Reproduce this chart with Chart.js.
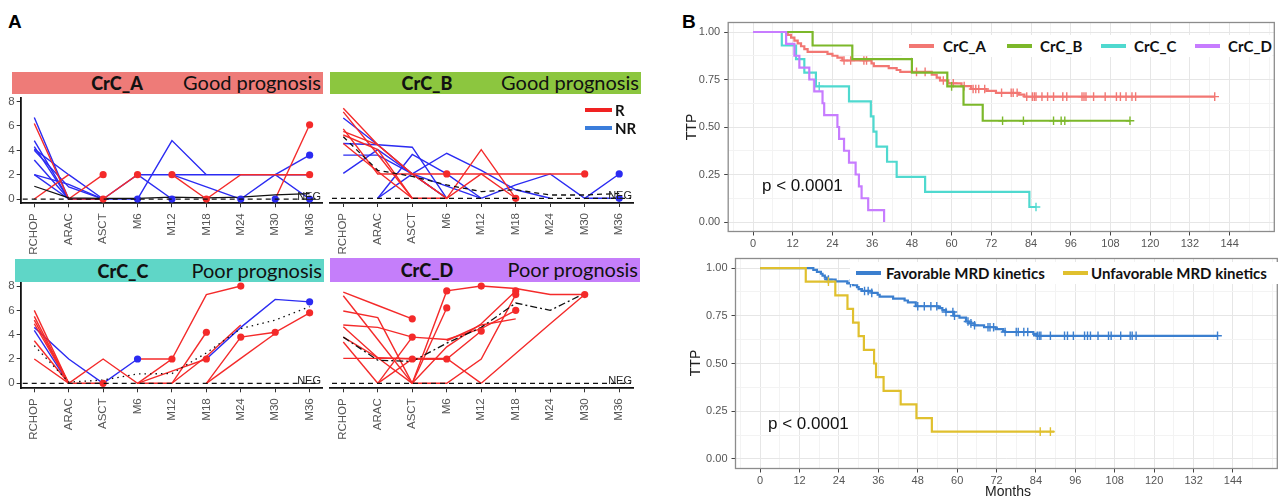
<!DOCTYPE html>
<html><head><meta charset="utf-8">
<title>MRD kinetics and TTP</title>
<script src="https://cdn.jsdelivr.net/npm/chart.js@4.4.1/dist/chart.umd.min.js"></script>
<style>
html,body{margin:0;padding:0;background:#fff;}
body{position:relative;width:1283px;height:498px;overflow:hidden;font-family:'Liberation Sans',Arial,sans-serif;}
canvas{position:absolute;}
.t{position:absolute;white-space:nowrap;line-height:1;}
.panel{font-weight:bold;font-size:19px;color:#000;}
.banner{position:absolute;}
.bid{position:absolute;top:50%;transform:translate(-50%,-50%);font-family:Lato,'Open Sans',sans-serif;font-weight:900;font-size:18px;color:#111;white-space:nowrap;}
.bprog{position:absolute;right:2px;top:50%;transform:translateY(-55%);font-family:Lato,'Open Sans',sans-serif;font-size:20px;color:#111;white-space:nowrap;}
.lkey{position:absolute;height:4px;}
.ltxt{position:absolute;font-family:Lato,'Open Sans',sans-serif;font-weight:bold;font-size:15px;color:#111;white-space:nowrap;line-height:1;transform:translateY(-50%);}
.lbg{position:absolute;background:#fff;}
.pval{position:absolute;font-size:17px;color:#111;white-space:nowrap;line-height:1;}
.atitle{position:absolute;font-size:14px;color:#222;white-space:nowrap;line-height:1;}
</style></head><body>

<div class="t panel" style="left:8px;top:12px;">A</div>
<div class="t panel" style="left:682px;top:12px;">B</div>

<div class="banner" style="left:12px;top:72px;width:311px;height:22px;background:#ee7b78"><span class="bid" style="left:105px">CrC_A</span><span class="bprog">Good prognosis</span></div>
<div class="banner" style="left:330px;top:72px;width:311px;height:22px;background:#8cc63f"><span class="bid" style="left:97px">CrC_B</span><span class="bprog">Good prognosis</span></div>
<div class="banner" style="left:15px;top:259px;width:309px;height:23px;background:#5fd6c7"><span class="bid" style="left:108px">CrC_C</span><span class="bprog">Poor prognosis</span></div>
<div class="banner" style="left:330px;top:258px;width:310px;height:24px;background:#c57efa"><span class="bid" style="left:97px">CrC_D</span><span class="bprog">Poor prognosis</span></div>

<canvas id="cA" width="330" height="176" style="left:0px;top:84px;width:330px;height:176px"></canvas>
<canvas id="cB" width="320" height="176" style="left:322px;top:84px;width:320px;height:176px"></canvas>
<canvas id="cC" width="330" height="176" style="left:0px;top:270px;width:330px;height:176px"></canvas>
<canvas id="cD" width="320" height="176" style="left:322px;top:270px;width:320px;height:176px"></canvas>

<!-- R / NR legend -->
<div class="lkey" style="left:585px;top:108px;width:27px;background:#f02222"></div>
<div class="ltxt" style="left:615px;top:110px;">R</div>
<div class="lkey" style="left:585px;top:126px;width:27px;background:#3a7ddb"></div>
<div class="ltxt" style="left:615px;top:128px;">NR</div>

<canvas id="kmTop" width="603" height="252" style="left:680px;top:0px;width:603px;height:252px"></canvas>
<canvas id="kmBot" width="603" height="258" style="left:680px;top:240px;width:603px;height:258px"></canvas>

<div class="atitle" style="left:691px;top:127px;transform:translate(-50%,-50%) rotate(-90deg);">TTP</div>
<div class="atitle" style="left:695px;top:363px;transform:translate(-50%,-50%) rotate(-90deg);">TTP</div>
<div class="atitle" style="left:1008px;top:491px;transform:translate(-50%,-50%);">Months</div>

<div class="pval" style="left:762px;top:177px;">p &lt; 0.0001</div>
<div class="pval" style="left:768px;top:415px;">p &lt; 0.0001</div>

<div class="lbg" style="left:902px;top:35px;width:370px;height:22px;"></div>
<div class="lbg" style="left:850px;top:262px;width:428px;height:22px;"></div>
<div id="legTop"></div>
<div id="legBot"></div>

<script>
// ---------------- Panel A data ----------------
const categories = ['RCHOP','ARAC','ASCT','M6','M12','M18','M24','M30','M36'];
const yTicksA = [0, 2, 4, 6, 8];
const NEG_LEVEL = 0;

const crcA_red = [
  [6.2, 0, 0, null, null, null, null, null, null],
  [0, 2.0, null, null, null, null, null, null, null],
  [null, 0, 2.0, null, null, null, null, null, null],
  [null, null, 0, 2.0, null, null, null, null, null],
  [null, null, null, null, 2.0, 0, null, null, null],
  [null, null, null, null, null, 0, 2.0, 2.0, 2.0],
  [null, null, null, null, null, null, null, 0, 6.1]
];
const crcA_blue = [
  [6.7, 0, 0, 0, null, null, null, null, null],
  [4.8, 0, null, null, null, null, null, null, null],
  [4.3, 0, null, null, null, null, null, null, null],
  [4.1, 2.0, 0, null, null, null, null, null, null],
  [4.0, 1.0, 0, null, null, null, null, null, null],
  [3.2, 0, null, null, null, null, null, null, null],
  [2.0, 1.2, 0, null, null, null, null, null, null],
  [2.0, 0, null, null, null, null, null, null, null],
  [null, null, 0, 2.0, 2.0, 2.0, 2.0, 2.0, 2.0],
  [null, null, null, 0, 4.8, 2.0, null, null, null],
  [null, null, null, 2.0, 0, null, null, null, null],
  [null, null, null, null, 2.0, 1.0, 0, null, null],
  [null, null, null, null, null, null, 0, 2.0, 0],
  [null, null, null, null, null, null, null, 2.0, 3.6]
];
const crcA_mean = [1.05, 0.1, 0.05, 0.05, 0.15, 0.1, 0.15, 0.35, 0.45];
const crcA_redDots = [['ASCT',2],['ASCT',0],['M6',2],['M12',2],['M18',0],['M36',6.1],['M36',2]];
const crcA_blueDots = [['M6',0],['M12',0],['M24',0],['M30',0],['M36',0],['M36',3.6]];

const crcB_red = [
  [7.4, 4.4, 2.0, 0, null, null, null, null, null],
  [7.1, 3.6, 0, null, null, null, null, null, null],
  [5.7, 2.0, 2.0, 2.0, 2.0, 2.0, 2.0, 2.0, null],
  [5.5, 4.4, 2.0, 0, 4.0, 0, null, null, null],
  [5.2, 4.0, 0, null, null, null, null, null, null],
  [4.5, 2.2, 0, 0, 2.0, 0, null, null, null]
];
const crcB_blue = [
  [6.6, 4.4, 2.0, 0, null, null, null, null, null],
  [4.5, 4.4, 4.2, 0, null, null, null, null, null],
  [3.55, 3.55, 2.0, 0, null, null, null, null, null],
  [2.05, 4.0, 2.0, 1.0, 0, null, null, null, null],
  [null, 0, 3.6, 2.0, 0, null, null, null, null],
  [null, 0, 2.0, 3.7, 2.3, 0.7, 0, null, null],
  [null, null, null, null, 0, 1.1, 2.0, 0, 2.0],
  [null, null, null, null, null, null, null, 0, 0]
];
const crcB_mean = [5.05, 2.3, 1.8, 1.1, 0.55, 0.7, 0.27, 0.27, 0.4];
const crcB_redDots = [['M6',2],['M30',2],['M18',0]];
const crcB_blueDots = [['M36',2],['M36',0]];

const crcC_red = [
  [6.0, 0, null, null, null, null, null, null, null],
  [5.5, 0, null, null, null, null, null, null, null],
  [5.2, 0, null, null, null, null, null, null, null],
  [4.9, 0, null, null, null, null, null, null, null],
  [3.5, 0, null, null, null, null, null, null, null],
  [2.0, 0, 0, null, null, null, null, null, null],
  [null, 0, 2.0, 0, 0, null, null, null, null],
  [null, null, null, 2.0, 2.0, null, null, null, null],
  [null, null, null, 0, 2.0, 7.3, 8.0, null, null],
  [null, null, null, null, 0, 4.2, null, null, null],
  [null, null, null, 0, 1.0, 2.0, null, null, null],
  [null, null, null, null, 0, 2.2, 4.8, null, null],
  [null, null, null, null, null, 0, 3.8, 4.2, 5.8],
  [null, null, null, null, null, 0, 2.05, 4.1, null]
];
const crcC_blue = [
  [4.6, 2.0, 0, 2.0, null, null, null, null, null],
  [4.35, 0, null, null, null, null, null, null, null],
  [null, null, null, null, null, 2.0, 4.6, 6.9, 6.7]
];
const crcC_mean = [3.1, 0.1, 0.27, 0.77, 0.8, 2.5, 4.5, 5.2, 6.3];
const crcC_redDots = [['ASCT',0],['M12',2],['M24',8],['M18',4.2],['M18',2],['M24',3.8],['M30',4.2],['M36',5.8]];
const crcC_blueDots = [['M6',2],['M36',6.7]];

const crcD_red = [
  [7.5, 6.4, 5.3, null, null, null, null, null, null],
  [7.2, 3.6, 0, null, null, null, null, null, null],
  [5.95, 5.4, 0, null, null, null, null, null, null],
  [4.8, 4.6, 3.8, 3.6, 4.5, 6.0, null, null, null],
  [4.65, 2.1, 0, null, null, null, null, null, null],
  [3.8, 2.1, 2.0, null, null, null, null, null, null],
  [3.4, 0, null, null, null, null, null, null, null],
  [2.05, 2.05, 2.05, 2.05, 0, null, null, null, null],
  [null, 0, 3.8, null, null, null, null, null, null],
  [null, 0, 2.0, 2.0, null, null, null, null, null],
  [null, null, 0, 7.6, 8.0, 7.8, 7.3, 7.3, null],
  [null, null, 0, 6.2, null, null, null, null, null],
  [null, null, 0, 3.0, 4.9, 7.6, null, null, null],
  [null, null, 0, 0, 2.0, 7.3, null, null, null],
  [null, null, 2.0, 2.0, 4.3, null, null, null, null],
  [null, null, null, 3.5, 4.8, 5.3, null, null, null],
  [null, null, null, null, 0, 2.45, 4.9, 7.3, null]
];
const crcD_blue = [];
const crcD_mean = [3.8, 1.9, 1.8, 3.3, 4.6, 6.6, 6.0, 7.4, null];
const crcD_redDots = [['ASCT',5.3],['ASCT',3.8],['ASCT',2],['M6',7.6],['M6',6.2],['M6',2],['M12',8],['M12',4.3],['M18',7.6],['M18',7.3],['M18',6.0],['M30',7.3]];
const crcD_blueDots = [];

// ---------------- Panel B data (Kaplan-Meier) ----------------
const kmMonthTicks = [0, 12, 24, 36, 48, 60, 72, 84, 96, 108, 120, 132, 144];
const kmSurvTicks = [0, 0.25, 0.5, 0.75, 1];

const crcA_time = [0,10.5,11.5,12.5,13.5,14.5,15.5,16.5,22.5,24,25.5,27,35.8,36.5,41,43.4,44.5,54,55.5,56.5,59,63,65.9,70.5,73.4,80.3,82,139.5];
const crcA_surv = [1,0.985,0.97,0.955,0.94,0.925,0.91,0.895,0.885,0.875,0.865,0.85,0.835,0.82,0.81,0.80,0.79,0.775,0.76,0.745,0.73,0.715,0.70,0.69,0.68,0.67,0.66,0.66];
const crcA_cens = [27.5,29.5,33.5,34.3,49.4,52,57.5,60.5,63.8,66.5,67.3,68.2,70,75.1,78,78.6,79.8,82.7,84.4,85,85.5,87.3,89,90.8,93.6,94.8,99.4,100,100.6,102.9,106.4,109.8,111,112.7,114.5,115.6,139.5];

const crcB_time = [0,18,30,48,58.7,63.6,69.4,113.9];
const crcB_surv = [1,0.929,0.857,0.786,0.714,0.617,0.533,0.533];
const crcB_cens = [60,75.4,81.7,90.8,93.1,94.2,113.9];

const crcC_time = [0,8.7,13,15.5,19,29,35.6,36.4,37.3,40.5,43.4,52,83.5,85.5];
const crcC_surv = [1,0.929,0.857,0.786,0.714,0.635,0.556,0.476,0.397,0.317,0.238,0.159,0.079,0.079];
const crcC_cens = [20,85.5];

const crcD_time = [0,10,12.5,14,17,18.5,21,21.5,25.5,26,27.5,29,31,32,32.8,34.8,39.6];
const crcD_surv = [1,0.9375,0.875,0.8125,0.75,0.6875,0.625,0.5625,0.5,0.4375,0.375,0.3125,0.25,0.1875,0.125,0.0625,0];
const crcD_cens = [];

const fav_time = [0,16.2,17.3,18.5,19,19.7,20.3,23,26.6,28.3,29.5,30,31,34,35.8,36.4,40.5,44,45,47.4,54.3,55.5,56.6,59,60.7,62.7,63.6,65.3,68.2,71.7,74,74.6,83.2,84.4,139.3];
const fav_surv = [1,0.99,0.98,0.97,0.96,0.95,0.94,0.93,0.92,0.91,0.90,0.89,0.88,0.87,0.86,0.85,0.84,0.83,0.82,0.80,0.79,0.78,0.77,0.75,0.74,0.72,0.71,0.70,0.69,0.68,0.67,0.665,0.655,0.645,0.645];
const fav_cens = [20.8,27.5,31.8,32.9,34,48,50,52,53.8,56.6,58.7,59.2,63.3,64.2,65.3,69.4,70,71.1,74.6,78,78.6,80.3,81.5,84.4,85,85.5,88.4,92.7,93.6,95.4,98.8,99.7,100.6,102.9,106.1,106.9,109.8,112.7,113.3,114.5,139.3];

const unfav_time = [0,13.9,22.9,26.6,28.3,30,31.6,34.7,35.3,37.6,42.8,47.6,52.3,89.6];
const unfav_surv = [1,0.929,0.857,0.786,0.714,0.643,0.571,0.5,0.429,0.357,0.286,0.214,0.143,0.143];
const unfav_cens = [20.8,85.3,88.4];

// ---------------- styling ----------------
const RED = '#f42a2a', BLUE = '#2b2bf2';
const COL = {A:'#f27773', B:'#7cb82a', C:'#4fd9cf', D:'#c77cff', FAV:'#3b7fcf', UNFAV:'#e0c02e'};
const FONT = 'Liberation Sans';

const negPlugin = {
  id: 'neg',
  afterDatasetsDraw(chart) {
    const {ctx, chartArea: a, scales: {y}} = chart;
    const py = y.getPixelForValue(NEG_LEVEL);
    ctx.save();
    ctx.strokeStyle = '#111'; ctx.lineWidth = 1.2; ctx.setLineDash([5, 4]);
    ctx.beginPath(); ctx.moveTo(a.left + 2, py); ctx.lineTo(a.right - 2, py); ctx.stroke();
    ctx.setLineDash([]);
    ctx.fillStyle = '#222'; ctx.font = '11px "' + FONT + '"';
    ctx.textAlign = 'right'; ctx.textBaseline = 'alphabetic';
    ctx.fillText('NEG', a.right - 1, py + 0.5);
    ctx.restore();
  }
};

function spaghetti(id, d, g) {
  const toPts = arr => arr.map((v, i) => v === null ? null : {x: i, y: v}).filter(p => p);
  const dots = list => list.map(([c, v]) => ({x: categories.indexOf(c), y: v}));
  const bottomToTop = [];
  d.blue.forEach(a => bottomToTop.push({data: toPts(a), borderColor: BLUE, borderWidth: 1.4, pointRadius: 0, tension: 0}));
  d.red.forEach(a => bottomToTop.push({data: toPts(a), borderColor: RED, borderWidth: 1.4, pointRadius: 0, tension: 0}));
  bottomToTop.push({data: toPts(d.mean), borderColor: '#111', borderWidth: 1.3, borderDash: d.dash, pointRadius: 0, tension: 0});
  bottomToTop.push({data: dots(d.blueDots), showLine: false, pointRadius: 3.6, pointBackgroundColor: BLUE, pointBorderColor: BLUE, pointBorderWidth: 0});
  bottomToTop.push({data: dots(d.redDots), showLine: false, pointRadius: 3.6, pointBackgroundColor: RED, pointBorderColor: RED, pointBorderWidth: 0});
  const datasets = bottomToTop.reverse().map(ds => Object.assign({clip: false, fill: false}, ds));
  new Chart(document.getElementById(id), {
    type: 'line',
    data: {datasets},
    plugins: [negPlugin],
    options: {
      responsive: false, animation: false, devicePixelRatio: 1,
      layout: {padding: g.pad},
      plugins: {legend: {display: false}, tooltip: {enabled: false}},
      scales: {
        x: {
          type: 'linear', min: g.xMin, max: g.xMax,
          afterBuildTicks: s => { s.ticks = categories.map((c, i) => ({value: i})); },
          afterFit: s => { s.height = g.xH; },
          ticks: {autoSkip: false, minRotation: 90, maxRotation: 90, padding: 6, color: '#555',
                  font: {family: FONT, size: 11.5}, callback: v => categories[v]},
          grid: {drawOnChartArea: false, drawTicks: true, tickLength: 4, tickColor: '#333', tickWidth: 1},
          border: {display: true, color: '#111', width: 1.8}
        },
        y: {
          type: 'linear', display: g.showY, min: g.yMin, max: g.yMax,
          afterBuildTicks: s => { s.ticks = yTicksA.map(v => ({value: v})); },
          afterFit: s => { s.width = g.yW; },
          ticks: {padding: 2, color: '#555', font: {family: FONT, size: 11.5}},
          grid: {drawOnChartArea: false, drawTicks: true, tickLength: 4, tickColor: '#333', tickWidth: 1},
          border: {display: true, color: '#111', width: 1.8}
        }
      }
    }
  });
}

spaghetti('cA', {red: crcA_red, blue: crcA_blue, mean: crcA_mean, dash: [], redDots: crcA_redDots, blueDots: crcA_blueDots},
  {pad: {left: 0, top: 14, right: 8, bottom: 0}, xH: 56.7, yW: 20.7, showY: true, xMin: -0.395, xMax: 8.36, yMin: -0.35, yMax: 8.3});
spaghetti('cB', {red: crcB_red, blue: crcB_blue, mean: crcB_mean, dash: [5, 4], redDots: crcB_redDots, blueDots: crcB_blueDots},
  {pad: {left: 8, top: 14, right: 9, bottom: 0}, xH: 57, yW: 0, showY: false, xMin: -0.385, xMax: 8.4, yMin: -0.386, yMax: 8.24});
spaghetti('cC', {red: crcC_red, blue: crcC_blue, mean: crcC_mean, dash: [1.5, 4], redDots: crcC_redDots, blueDots: crcC_blueDots},
  {pad: {left: 0, top: 13, right: 8, bottom: 0}, xH: 57.7, yW: 20.7, showY: true, xMin: -0.395, xMax: 8.36, yMin: -0.41, yMax: 8.25});
spaghetti('cD', {red: crcD_red, blue: crcD_blue, mean: crcD_mean, dash: [7, 3, 2, 3], redDots: crcD_redDots, blueDots: crcD_blueDots},
  {pad: {left: 8, top: 13, right: 9, bottom: 0}, xH: 57.7, yW: 0, showY: false, xMin: -0.385, xMax: 8.4, yMin: -0.41, yMax: 8.25});

// ---------------- Kaplan-Meier ----------------
function survAt(times, surv, t) {
  let s = surv[0];
  for (let i = 0; i < times.length; i++) if (times[i] <= t) s = surv[i];
  return s;
}
const framePlugin = {
  id: 'frame',
  afterDatasetsDraw(chart) {
    const a = chart.chartArea, ctx = chart.ctx;
    ctx.save(); ctx.strokeStyle = '#8c8c8c'; ctx.lineWidth = 1.3;
    ctx.strokeRect(a.left, a.top, a.right - a.left, a.bottom - a.top);
    ctx.restore();
  }
};
const monthGrid = [];
kmMonthTicks.forEach(m => { monthGrid.push(m - 6); monthGrid.push(m); });
monthGrid.push(150, 156);
const survGrid = [];
kmSurvTicks.forEach((v, i) => { survGrid.push(v); if (i < kmSurvTicks.length - 1) survGrid.push((v + kmSurvTicks[i + 1]) / 2); });

function kmChart(id, groups, g) {
  const bottomToTop = [];
  groups.forEach(gr => {
    bottomToTop.push({data: gr.time.map((t, i) => ({x: t, y: gr.surv[i]})), stepped: true,
      borderColor: gr.color, borderWidth: 2.2, pointRadius: 0, fill: false});
    bottomToTop.push({data: gr.cens.map(t => ({x: t, y: survAt(gr.time, gr.surv, t)})), showLine: false,
      pointStyle: 'cross', pointRadius: 4.3, pointBorderColor: gr.color, pointBorderWidth: 1.4});
  });
  const datasets = bottomToTop.reverse();
  const isMajX = v => kmMonthTicks.includes(v);
  const isMajY = v => kmSurvTicks.includes(v);
  new Chart(document.getElementById(id), {
    type: 'line',
    data: {datasets},
    plugins: [framePlugin],
    options: {
      responsive: false, animation: false, devicePixelRatio: 1,
      layout: {padding: g.pad},
      plugins: {legend: {display: false}, tooltip: {enabled: false}},
      scales: {
        x: {
          type: 'linear', min: -7.5, max: 157.5,
          afterBuildTicks: s => { s.ticks = monthGrid.map(v => ({value: v})); },
          afterFit: s => { s.height = g.xH; },
          ticks: {autoSkip: false, maxRotation: 0, minRotation: 0, padding: 2, color: '#555',
                  font: {family: FONT, size: 11}, callback: v => isMajX(v) ? String(v) : ''},
          grid: {color: c => isMajX(c.tick.value) ? '#e6e6e6' : '#f3f3f3', lineWidth: 1,
                 tickLength: 4, tickColor: c => isMajX(c.tick.value) ? '#444' : 'rgba(0,0,0,0)'},
          border: {display: false}
        },
        y: {
          type: 'linear', min: -0.05, max: 1.05,
          afterBuildTicks: s => { s.ticks = survGrid.map(v => ({value: v})); },
          afterFit: s => { s.width = g.yW; },
          ticks: {padding: 4, color: '#555', font: {family: FONT, size: 11},
                  callback: v => isMajY(v) ? v.toFixed(2) : ''},
          grid: {color: c => isMajY(c.tick.value) ? '#e6e6e6' : '#f3f3f3', lineWidth: 1,
                 tickLength: 4, tickColor: c => isMajY(c.tick.value) ? '#444' : 'rgba(0,0,0,0)'},
          border: {display: false}
        }
      }
    }
  });
}

const topGroups = [
  {name: 'CrC_A', time: crcA_time, surv: crcA_surv, cens: crcA_cens, color: COL.A},
  {name: 'CrC_B', time: crcB_time, surv: crcB_surv, cens: crcB_cens, color: COL.B},
  {name: 'CrC_C', time: crcC_time, surv: crcC_surv, cens: crcC_cens, color: COL.C},
  {name: 'CrC_D', time: crcD_time, surv: crcD_surv, cens: crcD_cens, color: COL.D}
];
const botGroups = [
  {name: 'Favorable MRD kinetics', time: fav_time, surv: fav_surv, cens: fav_cens, color: COL.FAV},
  {name: 'Unfavorable MRD kinetics', time: unfav_time, surv: unfav_surv, cens: unfav_cens, color: COL.UNFAV}
];
kmChart('kmTop', topGroups, {pad: {left: 0, top: 22.5, right: 8.7, bottom: 0}, xH: 20.5, yW: 48.2});
kmChart('kmBot', botGroups, {pad: {left: 0, top: 18.5, right: 2, bottom: 0}, xH: 29.5, yW: 55.5});

// legends
function legend(elId, groups, keyX, textX, yc) {
  const el = document.getElementById(elId);
  groups.forEach((gr, i) => {
    const k = document.createElement('div');
    k.className = 'lkey';
    k.style.cssText = `left:${keyX[i]}px;top:${yc - 2}px;width:25px;background:${gr.color}`;
    const t = document.createElement('div');
    t.className = 'ltxt';
    t.style.cssText = `left:${textX[i]}px;top:${yc}px;`;
    t.textContent = gr.name;
    el.appendChild(k); el.appendChild(t);
  });
}
legend('legTop', topGroups, [909, 1007, 1101, 1195], [943, 1040, 1134, 1228], 46);
legend('legBot', botGroups, [856, 1063], [886, 1091], 273);
</script>
</body></html>
